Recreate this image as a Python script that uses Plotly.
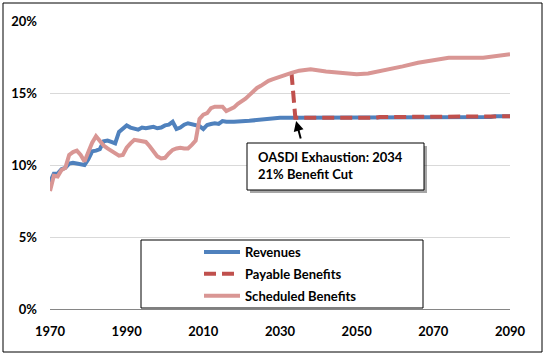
import plotly.graph_objects as go

# ---------------- data ----------------
rev_years = [1970, 1971, 1972, 1973, 1974, 1975, 1976, 1977, 1978, 1979,
             1980, 1981, 1982, 1983, 1984, 1985, 1986, 1987, 1988, 1989,
             1990, 1991, 1992, 1993, 1994, 1995, 1996, 1997, 1998, 1999,
             2000, 2001, 2002, 2003, 2004, 2005, 2006, 2007, 2008, 2009,
             2010, 2011, 2012, 2013, 2014, 2015, 2016, 2018, 2022, 2026,
             2030, 2034, 2055, 2056, 2085, 2086, 2090]
revenues = [8.8, 9.4, 9.4, 9.7, 9.8, 10.1, 10.15, 10.1, 10.05, 10.0,
            10.4, 10.95, 11.0, 11.1, 11.65, 11.7, 11.6, 11.5, 12.3, 12.5,
            12.75, 12.6, 12.5, 12.45, 12.6, 12.55, 12.6, 12.65, 12.55, 12.6,
            12.75, 12.8, 13.0, 12.5, 12.6, 12.8, 12.9, 12.85, 12.78, 12.7,
            12.5, 12.78, 12.85, 12.9, 12.85, 13.05, 13.0, 13.0, 13.07, 13.2,
            13.28, 13.28, 13.28, 13.33, 13.33, 13.38, 13.38]

sched_years = [1970, 1971, 1972, 1973, 1974, 1975, 1976, 1977, 1978, 1979,
               1980, 1981, 1982, 1983, 1984, 1985, 1986, 1987, 1988, 1989,
               1990, 1991, 1992, 1993, 1994, 1995, 1996, 1997, 1998, 1999,
               2000, 2001, 2002, 2003, 2004, 2005, 2006, 2007, 2008, 2009,
               2010, 2011, 2012, 2013, 2014, 2015, 2016, 2017, 2018, 2019,
               2020, 2021, 2022, 2023, 2024, 2025, 2026, 2027, 2028, 2029,
               2030, 2031, 2032, 2033, 2035, 2038, 2042, 2046, 2050, 2053,
               2057, 2062, 2066, 2070, 2074, 2083, 2086, 2090]
scheduled = [8.2, 9.25, 9.2, 9.65, 9.8, 10.7, 10.9, 11.0, 10.7, 10.25,
             10.9, 11.55, 12.0, 11.65, 11.35, 11.15, 11.0, 10.8, 10.65, 10.7,
             11.2, 11.5, 11.75, 11.7, 11.65, 11.6, 11.3, 10.9, 10.6, 10.45,
             10.5, 10.8, 11.05, 11.15, 11.2, 11.15, 11.15, 11.4, 11.7, 13.2,
             13.5, 13.6, 13.95, 14.05, 14.05, 14.05, 13.75, 13.9, 14.0, 14.25,
             14.4, 14.6, 14.85, 15.1, 15.35, 15.5, 15.7, 15.85, 15.95, 16.05,
             16.15, 16.25, 16.35, 16.4, 16.55, 16.65, 16.5, 16.4, 16.3, 16.35,
             16.55, 16.85, 17.1, 17.3, 17.45, 17.45, 17.55, 17.7]

pay_years = [2033, 2034, 2055, 2056, 2090]
payable = [16.4, 13.28, 13.28, 13.33, 13.38]

x_ticks = [1970, 1990, 2010, 2030, 2050, 2070, 2090]
y_ticks = [0, 5, 10, 15, 20]
y_tick_labels = ["0%", "5%", "10%", "15%", "20%"]

series_names = ["Revenues", "Payable Benefits", "Scheduled Benefits"]
annot_text = "OASDI Exhaustion: 2034<br>21% Benefit Cut"
exhaust_year = 2034.2
exhaust_value = 13.06

# ---------------- figure ----------------
FONT = "Lato"
fig = go.Figure()
fig.add_trace(go.Scatter(x=rev_years, y=revenues, mode="lines", name=series_names[0],
                         line=dict(color="#4F81BD", width=4), legendgroup="a"))
fig.add_trace(go.Scatter(x=pay_years, y=payable, mode="lines", name=series_names[1],
                         line=dict(color="#C0504D", width=4, dash="12px,6px"), legendgroup="b"))
fig.add_trace(go.Scatter(x=sched_years, y=scheduled, mode="lines", name=series_names[2],
                         line=dict(color="#D99694", width=4), legendgroup="c"))

W, H = 547, 357
ml, mr, mt, mb = 50, 37, 21, 48
pw, ph = W - ml - mr, H - mt - mb

def px(x):
    return (x - ml) / pw

def py(y):
    return (H - mb - y) / ph

shapes = [
    # outer border
    dict(type="rect", xref="paper", yref="paper", x0=px(3), x1=px(542), y0=py(352), y1=py(3),
         line=dict(color="#000000", width=1), fillcolor="rgba(0,0,0,0)", layer="above"),
    # legend box
    dict(type="rect", xref="paper", yref="paper", x0=px(141), x1=px(423), y0=py(308), y1=py(240),
         line=dict(color="#000000", width=1), fillcolor="white", layer="above"),
    # annotation shadow
    dict(type="rect", xref="paper", yref="paper", x0=px(250), x1=px(427), y0=py(193), y1=py(146),
         line=dict(width=0), fillcolor="rgba(0,0,0,0.35)", layer="above"),
    # annotation box
    dict(type="rect", xref="paper", yref="paper", x0=px(247), x1=px(424), y0=py(190), y1=py(143),
         line=dict(color="#000000", width=1), fillcolor="white", layer="above"),
]

fig.update_layout(
    width=W, height=H,
    margin=dict(l=ml, r=mr, t=mt, b=mb),
    paper_bgcolor="white", plot_bgcolor="white",
    font=dict(family=FONT, size=13, color="#000000"),
    shapes=shapes,
    showlegend=True,
    legend=dict(x=px(199), y=py(237), xanchor="left", yanchor="top",
                bgcolor="rgba(0,0,0,0)", borderwidth=0, itemwidth=36,
                traceorder="grouped", tracegroupgap=2,
                font=dict(family=FONT, size=13, color="#000000", weight="bold")),
    annotations=[
        dict(xref="paper", yref="paper", x=px(256), y=py(165), xanchor="left", yanchor="middle",
             align="left", text=annot_text, showarrow=False,
             font=dict(family=FONT, size=13, color="#000000", weight="bold")),
        dict(xref="x", yref="y", x=exhaust_year, y=exhaust_value, text="", showarrow=True,
             ax=5, ay=19, arrowhead=2, arrowsize=1, arrowwidth=2, arrowcolor="#000000",
             standoff=0),
    ],
)
fig.update_xaxes(range=[1970, 2090], tickvals=x_ticks, showgrid=False, zeroline=False,
                 showline=True, linecolor="#868686", linewidth=1, ticks="",
                 ticklabelstandoff=10,
                 tickfont=dict(family=FONT, size=13, color="#000000", weight="bold"))
fig.update_yaxes(range=[0, 20], tickvals=y_ticks, ticktext=y_tick_labels, showgrid=True,
                 gridcolor="#D9D9D9", gridwidth=1, zeroline=False, showline=False, ticks="",
                 ticklabelstandoff=12,
                 tickfont=dict(family=FONT, size=13, color="#000000", weight="bold"))

fig.write_html("out.html", config={"displayModeBar": False},
               post_script="document.body.style.margin='0';document.body.style.overflow='hidden';")
